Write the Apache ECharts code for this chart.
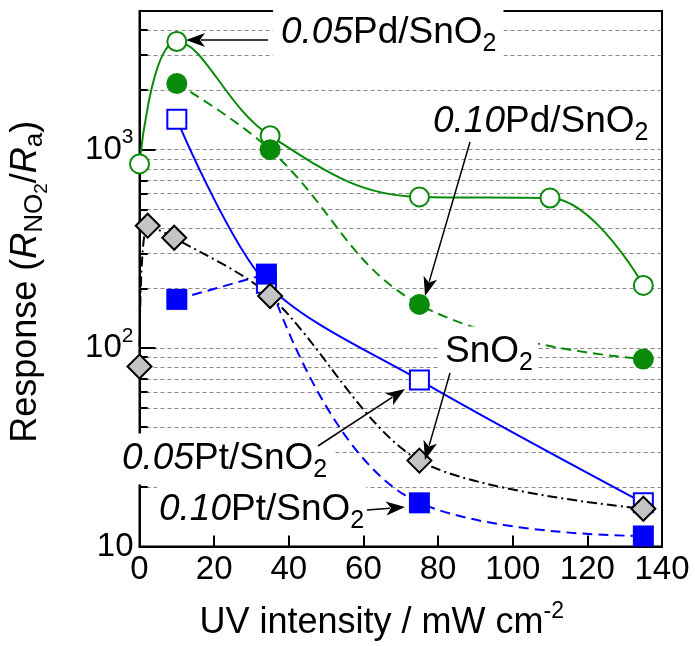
<!DOCTYPE html>
<html><head><meta charset="utf-8">
<script src="https://cdn.jsdelivr.net/npm/echarts@6/dist/echarts.min.js"></script>
<style>html,body{margin:0;padding:0;background:#fff}#c{width:695px;height:646px}</style>
</head><body><div id="c"></div>
<script>
// ---- data ----
const xPd05 = [0, 10, 35, 75, 110, 135];
const yPd05 = [848, 3508, 1175, 578, 571, 207];
const xPd10 = [10, 35, 75, 135];
const yPd10 = [2155, 1000, 166, 88];
const xPt05 = [10, 34, 75, 135];
const yPt05 = [1423, 212, 69, 16.6];
const xPt10 = [10, 34, 75, 135];
const yPt10 = [176, 236, 16.6, 11.3];
const xSn = [0, 2.2, 9.3, 35, 75, 135];
const ySn = [80.7, 414, 360, 183, 27.1, 15.5];
const xTickValues = [0, 20, 40, 60, 80, 100, 120, 140];
const yMajorValues = [10, 100, 1000];
const yMinorValues = [20, 30, 40, 50, 60, 70, 80, 90, 200, 300, 400, 500, 600, 700, 800, 900, 2000, 3000, 4000];
const seriesNames = ['0.05Pd/SnO2', '0.10Pd/SnO2', '0.05Pt/SnO2', '0.10Pt/SnO2', 'SnO2'];

const FONT = "'Liberation Sans', Arial, sans-serif";
const G = '#0a8a0a', B = '#0000ff';
function pairs(xs, ys) { return xs.map((x, i) => [x, ys[i]]); }

const chart = echarts.init(document.getElementById('c'));

const gridLines = yMinorValues.concat([100, 1000]).map(v => ({
  yAxis: v, lineStyle: { type: [4, 3], color: '#8a8a8a', width: 1.2 }
}));
const minorTicks = yMinorValues.map(v => [
  { coord: [0, v], lineStyle: { type: 'solid', color: '#000', width: 2 } },
  { coord: [2.2, v] }
]);
const majorTicks = [100, 1000].map(v => [
  { coord: [0, v], lineStyle: { type: 'solid', color: '#000', width: 2 } },
  { coord: [4.3, v] }
]);

const pt10 = pairs(xPt10, yPt10);
const S = 33;
const option = {
  animation: false,
  backgroundColor: '#fff',
  textStyle: { fontFamily: FONT },
  grid: { left: 137, right: 33, top: 11, bottom: 95, show: true, borderColor: '#000', borderWidth: 2, backgroundColor: 'transparent' },
  xAxis: {
    type: 'value', min: 0, max: 140, interval: 20,
    axisLine: { lineStyle: { color: '#000', width: 2 } },
    axisTick: { inside: true, length: 11, lineStyle: { color: '#000', width: 2 } },
    axisLabel: { fontSize: S, color: '#000', fontFamily: FONT, margin: 7,
      formatter: v => xTickValues.includes(v) ? String(v) : '' },
    splitLine: { show: false },
    name: '{n|UV intensity / mW cm}{sup|-2}',
    nameLocation: 'middle', nameGap: 54,
    nameTextStyle: { fontSize: 36, color: '#000', fontFamily: FONT, padding: [0, 38, 0, 0],
      rich: { n: { fontSize: 36, fontFamily: FONT }, sup: { fontSize: 23, fontFamily: FONT, padding: [0, 0, 22, 0] } } }
  },
  yAxis: {
    type: 'log', logBase: 10, min: 10, max: 5000,
    axisLine: { lineStyle: { color: '#000', width: 2 } },
    axisTick: { show: false },
    splitLine: { show: false },
    axisLabel: {
      color: '#000', fontSize: S, fontFamily: FONT, margin: 6, showMaxLabel: false,
      formatter: v => {
        const e = Math.log10(v), r = Math.round(e);
        if (Math.abs(e - r) > 1e-6 || !yMajorValues.includes(Math.pow(10, r))) return '';
        return r === 1 ? '{n|10}' : '{n|10}{sup|' + r + '}';
      },
      rich: { n: { fontSize: S, fontFamily: FONT }, sup: { fontSize: 21, fontFamily: FONT, padding: [0, 0, 24, 0] } }
    },
    name: '{n|Response (}{it|R}{sub|NO}{sub2|2}{n|/}{it|R}{sub|a}{n|)}',
    nameLocation: 'middle', nameGap: 88,
    nameTextStyle: { fontSize: 36, color: '#000', fontFamily: FONT, padding: [0, 6, 0, 0],
      rich: {
        n: { fontSize: 36, fontFamily: FONT },
        it: { fontSize: 36, fontFamily: FONT, fontStyle: 'italic' },
        sub: { fontSize: 26, fontFamily: FONT, padding: [18, 0, 0, 0] },
        sub2: { fontSize: 19, fontFamily: FONT, padding: [32, 0, 0, 0] }
      } }
  },
  series: [
    { type: 'line', name: 'grid', data: [], silent: true,
      markLine: { silent: true, z: 1, symbol: ['none', 'none'], label: { show: false }, animation: false,
        emphasis: { disabled: true }, data: gridLines.concat(minorTicks, majorTicks) } },
    { type: 'line', name: seriesNames[0], data: pairs(xPd05, yPd05), smooth: 0.4,
      symbol: 'circle', symbolSize: 19,
      itemStyle: { color: '#fff', borderColor: G, borderWidth: 2 },
      lineStyle: { color: G, width: 2 } },
    { type: 'line', name: seriesNames[1], data: pairs(xPd10, yPd10), smooth: 0.4,
      symbol: 'circle', symbolSize: 21,
      itemStyle: { color: G, borderColor: G, borderWidth: 0 },
      lineStyle: { color: G, width: 2, type: [10, 6] } },
    { type: 'line', name: seriesNames[2], data: pairs(xPt05, yPt05), smooth: 0.3,
      symbol: 'rect', symbolSize: 19,
      itemStyle: { color: '#fff', borderColor: B, borderWidth: 2 },
      lineStyle: { color: B, width: 2 } },
    // 0.10Pt: straight first segment, smooth after the maximum
    { type: 'line', name: seriesNames[3], data: pt10.slice(0, 2), smooth: false,
      symbol: 'none',
      lineStyle: { color: B, width: 2, type: [10, 6] } },
    { type: 'line', name: seriesNames[3], data: pt10.slice(1), smooth: 0.45,
      symbol: 'none',
      lineStyle: { color: B, width: 2, type: [10, 6] } },
    { type: 'line', name: seriesNames[3], data: pt10,
      symbol: 'rect', symbolSize: 21,
      itemStyle: { color: B, borderWidth: 0 },
      lineStyle: { width: 0, opacity: 0 } },
    { type: 'line', name: seriesNames[4], data: pairs(xSn, ySn), smooth: 0.3,
      symbol: 'diamond', symbolSize: [24, 24],
      itemStyle: { color: '#c4c4c4', borderColor: '#000', borderWidth: 2 },
      lineStyle: { color: '#000', width: 2, type: [10, 4, 2, 4] } }
  ]
};
chart.setOption(option);

// ---- annotations ----
const LS = 37;
function label(x, y, it, rest, pad) {
  const text = (it ? '{it|' + it + '}' : '') + '{n|' + rest + '}{sub|2}';
  return { type: 'text', z: 50, x: x, y: y, silent: true,
    style: { text: text, fill: '#000', fontSize: LS, fontFamily: FONT, align: 'left', verticalAlign: 'middle',
      backgroundColor: '#fff', padding: pad,
      rich: {
        it: { fontSize: LS, fontFamily: FONT, fontStyle: 'italic' },
        n: { fontSize: LS, fontFamily: FONT },
        sub: { fontSize: 25, fontFamily: FONT, padding: [22, 0, 0, 0] }
      } } };
}
function arrow(x1, y1, x2, y2) {
  const head = 19, hw = 7;
  const dx = x2 - x1, dy = y2 - y1, L = Math.hypot(dx, dy), ux = dx / L, uy = dy / L;
  const bx = x2 - ux * head, by = y2 - uy * head;
  return [
    { type: 'line', z: 60, silent: true, shape: { x1: x1, y1: y1, x2: bx + ux * 4, y2: by + uy * 4 },
      style: { stroke: '#000', lineWidth: 1.5 } },
    { type: 'polygon', z: 60, silent: true,
      shape: { points: [[x2, y2], [bx - uy * hw, by + ux * hw], [bx + ux * 5, by + uy * 5], [bx + uy * hw, by - ux * hw]] },
      style: { fill: '#000' } }
  ];
}
const graphics = [
  label(273, 33, '0.05', 'Pd/SnO', [2, 7, 2, 8]),
  label(431, 122, '0.10', 'Pd/SnO', [2, 2, 2, 2]),
  label(439, 352, '', 'SnO', [2, 5, 2, 6]),
  label(116, 459, '0.05', 'Pt/SnO', [2, 6, 2, 6]),
  label(157, 510, '0.10', 'Pt/SnO', [0, 2, 0, 2])
].concat(
  arrow(268, 40, 186, 40),
  arrow(470, 142, 425, 296),
  arrow(450, 373, 425, 460),
  arrow(318, 446, 405, 389),
  arrow(367, 510, 405, 507)
);
chart.setOption({ graphic: graphics });
</script>
</body></html>
